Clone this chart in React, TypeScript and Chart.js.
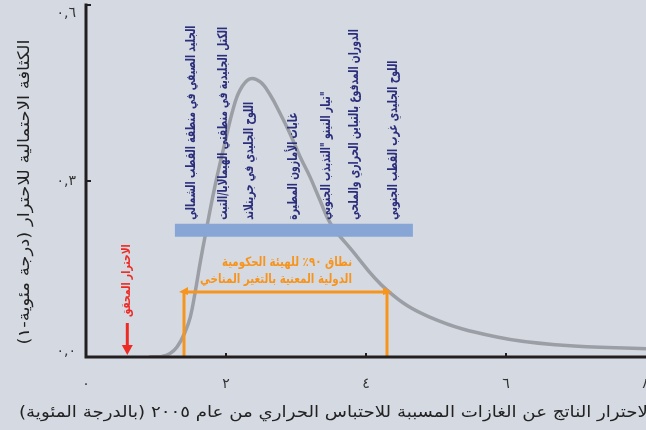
import React, { useEffect, useRef } from "react";
import { Chart, registerables } from "chart.js";

Chart.register(...registerables);

// Probability density of committed warming
const curveX = [0.9, 1.08, 1.2, 1.3, 1.41, 1.49, 1.56, 1.63, 1.7, 1.84, 1.99, 2.1, 2.2, 2.34, 2.49, 2.63, 2.77, 2.91, 3.06, 3.2, 3.34, 3.49, 3.77, 4.3, 4.91, 5.87, 6.81, 8.0];
const curveY = [0.0, 0.001, 0.006, 0.017, 0.041, 0.068, 0.111, 0.16, 0.205, 0.29, 0.368, 0.422, 0.455, 0.474, 0.469, 0.447, 0.416, 0.382, 0.341, 0.307, 0.268, 0.228, 0.186, 0.114, 0.068, 0.034, 0.02, 0.014];

const xTickValues = [0, 2, 4, 6, 8];
const xTickLabels = ["٠", "٢", "٤", "٦", "٨"];
const yTickValues = [0, 0.3, 0.6];
const yTickLabels = ["٠,٠", "٠,٣", "٠,٦"];

const xTitle = "الاحترار الناتج عن الغازات المسببة للاحتباس الحراري من عام ٢٠٠٥ (بالدرجة المئوية)";
const yTitle = "الكثافة الاحتمالية للاحترار (درجة مئوية-١)";

// Tipping elements, positioned along the warming axis
const tippingLabels = [
  "الجليد الصيفي في منطقة القطب الشمالي",
  "الكتل الجليدية في منطقتي الهيمالايا/التبت",
  "اللوح الجليدي في جرينلاند",
  "غابات الأمازون المطيرة",
  "\"تيار النينو \"التذبذب الجنوبي",
  "الدوران المدفوع بالتباين الحراري والملحي",
  "اللوح الجليدي غرب القطب الجنوبي",
];
const tippingX = [1.5, 1.96, 2.33, 2.96, 3.44, 3.84, 4.39];
const tippingBarRange = [1.27, 4.67];
const tippingBarLevel = 0.216;

const ipccRange = [1.4, 4.3];
const ipccLevel = 0.111;
const ipccText = ["نطاق ٩٠٪ للهيئة الحكومية", "الدولية المعنية بالتغير المناخي"];

const observedWarming = 0.59;
const observedText = "الاحترار المحقق";

const BG = "#d5dae2";

function drawScaled(ctx: CanvasRenderingContext2D, text: string, x: number, y: number, rot: number, sx: number, fitWidth?: number) {
  ctx.save();
  ctx.translate(x, y);
  if (rot) ctx.rotate(rot);
  let s = sx;
  if (fitWidth) s = fitWidth / ctx.measureText(text).width;
  ctx.scale(s, 1);
  ctx.fillText(text, 0, 0);
  ctx.restore();
}

export default function App() {
  const ref = useRef<HTMLCanvasElement | null>(null);
  useEffect(() => {
    document.body.style.margin = "0";
    document.body.style.background = BG;
    const canvas = ref.current!;
    const decor = {
      id: "decor",
      beforeDraw(chart: any) {
        const ctx = chart.ctx;
        ctx.save();
        ctx.fillStyle = BG;
        ctx.fillRect(0, 0, chart.width, chart.height);
        ctx.restore();
      },
      afterDatasetsDraw(chart: any) {
        const ctx = chart.ctx as CanvasRenderingContext2D;
        const xs = chart.scales.x;
        const ys = chart.scales.y;
        const left = xs.left, right = xs.right, top = ys.top, bottom = ys.bottom;
        ctx.save();
        // axes
        ctx.strokeStyle = "#231f20";
        ctx.lineWidth = 3;
        ctx.beginPath();
        ctx.moveTo(left, top - 1.5);
        ctx.lineTo(left, bottom);
        ctx.lineTo(right + 2, bottom);
        ctx.stroke();
        ctx.lineWidth = 2;
        yTickValues.forEach((v) => {
          if (v === 0) return;
          const py = ys.getPixelForValue(v);
          ctx.beginPath();
          ctx.moveTo(left, py);
          ctx.lineTo(left + 5, py);
          ctx.stroke();
        });
        xTickValues.forEach((v) => {
          if (v === 0 || v === 8) return;
          const px = xs.getPixelForValue(v);
          ctx.beginPath();
          ctx.moveTo(px, bottom);
          ctx.lineTo(px, bottom - 4);
          ctx.stroke();
        });
        // tick labels
        ctx.fillStyle = "#333";
        ctx.font = "14px 'DejaVu Sans'";
        ctx.textBaseline = "middle";
        ctx.textAlign = "right";
        yTickValues.forEach((v, i) => {
          let py = ys.getPixelForValue(v);
          py = Math.min(Math.max(py, top + 8), bottom - 6);
          ctx.fillText(yTickLabels[i], left - 10, py);
        });
        ctx.textAlign = "center";
        xTickValues.forEach((v, i) => {
          ctx.fillText(xTickLabels[i], xs.getPixelForValue(v), bottom + 27);
        });
        // titles
        ctx.direction = "rtl";
        ctx.fillStyle = "#222";
        ctx.font = "16px 'DejaVu Sans'";
        ctx.textAlign = "center";
        drawScaled(ctx, xTitle, 336, 413, 0, 1, 634);
        drawScaled(ctx, yTitle, 25, 192, -Math.PI / 2, 1, 305);

        // tipping labels
        const barTop = ys.getPixelForValue(tippingBarLevel) - 6.5;
        ctx.fillStyle = "#2b2e7a";
        ctx.font = "bold 13.5px 'DejaVu Sans Condensed'";
        ctx.textAlign = "left";
        tippingLabels.forEach((t, i) => {
          drawScaled(ctx, t, xs.getPixelForValue(tippingX[i]), barTop - 4, -Math.PI / 2, 0.76);
        });

        // IPCC bracket arrowheads
        const ipY = ys.getPixelForValue(ipccLevel);
        const ipL = xs.getPixelForValue(ipccRange[0]);
        const ipR = xs.getPixelForValue(ipccRange[1]);
        ctx.fillStyle = "#f7941d";
        ctx.beginPath();
        ctx.moveTo(ipL - 5, ipY);
        ctx.lineTo(ipL + 4, ipY - 5);
        ctx.lineTo(ipL + 4, ipY + 3);
        ctx.closePath();
        ctx.fill();
        ctx.beginPath();
        ctx.moveTo(ipR + 5, ipY);
        ctx.lineTo(ipR - 4, ipY - 5);
        ctx.lineTo(ipR - 4, ipY + 3);
        ctx.closePath();
        ctx.fill();
        ctx.font = "bold 13px 'DejaVu Sans Condensed'";
        ctx.textAlign = "right";
        drawScaled(ctx, ipccText[0], 352, ipY - 29, 0, 0.88);
        drawScaled(ctx, ipccText[1], 352, ipY - 12, 0, 0.88);

        // observed warming arrow
        const ox = xs.getPixelForValue(observedWarming);
        ctx.strokeStyle = "#ee2a24";
        ctx.fillStyle = "#ee2a24";
        ctx.lineWidth = 3;
        ctx.beginPath();
        ctx.moveTo(ox, bottom - 34);
        ctx.lineTo(ox, bottom - 10);
        ctx.stroke();
        ctx.beginPath();
        ctx.moveTo(ox - 5.5, bottom - 12);
        ctx.lineTo(ox + 5.5, bottom - 12);
        ctx.lineTo(ox, bottom - 2);
        ctx.closePath();
        ctx.fill();
        ctx.font = "bold 12px 'DejaVu Sans Condensed'";
        ctx.textAlign = "left";
        drawScaled(ctx, observedText, ox, bottom - 40, -Math.PI / 2, 0.86);
        ctx.restore();
      },
    };

    const chart = new Chart(canvas, {
      type: "line",
      data: {
        datasets: [
          {
            data: [
              { x: tippingBarRange[0], y: tippingBarLevel },
              { x: tippingBarRange[1], y: tippingBarLevel },
            ],
            borderColor: "#87a6d6",
            borderWidth: 13,
            borderCapStyle: "butt",
            pointRadius: 0,
            order: 1,
          } as any,
          {
            data: [
              { x: ipccRange[0], y: 0 },
              { x: ipccRange[0], y: ipccLevel },
              { x: ipccRange[1], y: ipccLevel },
              { x: ipccRange[1], y: 0 },
            ],
            borderColor: "#f7941d",
            borderWidth: 3,
            borderCapStyle: "butt",
            borderJoinStyle: "miter",
            pointRadius: 0,
            tension: 0,
            order: 2,
          } as any,
          {
            data: curveX.map((x, i) => ({ x, y: curveY[i] })),
            borderColor: "#9b9fa5",
            borderWidth: 3.5,
            pointRadius: 0,
            tension: 0.4,
            order: 3,
          } as any,
        ],
      },
      options: {
        animation: false,
        responsive: false,
        devicePixelRatio: 1,
        layout: { padding: { left: 86, right: 0, top: 5, bottom: 73 } },
        plugins: { legend: { display: false }, tooltip: { enabled: false } },
        scales: {
          x: { type: "linear", min: 0, max: 8, display: false },
          y: { type: "linear", min: 0, max: 0.6, display: false },
        },
      },
      plugins: [decor],
    });
    return () => chart.destroy();
  }, []);
  return (
    <div style={{ width: 646, height: 430 }}>
      <canvas ref={ref} width={646} height={430} style={{ display: "block" }} />
    </div>
  );
}
